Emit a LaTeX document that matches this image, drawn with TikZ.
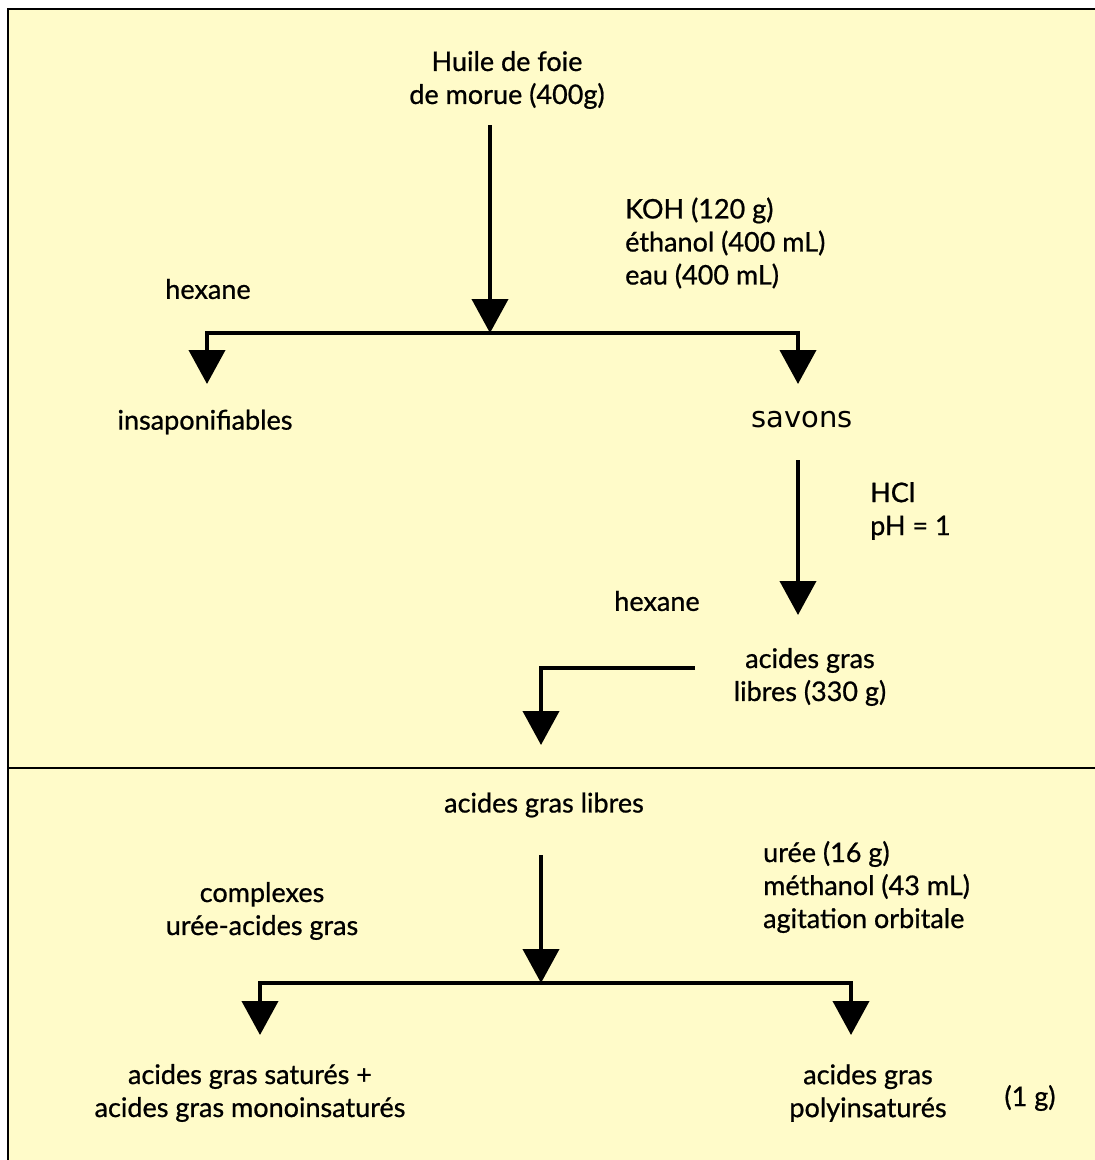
\documentclass[tikz,border=0pt]{standalone}
\usepackage{fontspec}
\setmainfont{Lato}[FakeBold=0.8]
\newfontfamily\savonsfont{DejaVu Sans}
\usetikzlibrary{arrows.meta}
\definecolor{fondjaune}{RGB}{255,251,201}

\begin{document}
\begin{tikzpicture}[
					x=1pt,y=-1pt,
					lbl/.style={align=center,inner sep=0pt,font=\fontsize{27}{33}\selectfont},
					lbll/.style={lbl,align=left,anchor=west},
					fleche/.style={line width=4pt,-{Triangle[width=36pt,length=34pt]}}
					]
					\useasboundingbox[fill=white] (0,0) rectangle (1095,1160);
					\fill[fondjaune] (8,9) rectangle (1096,1161);
					\draw[line width=2.5pt] (8,1161) -- (8,9) -- (1096,9);
					\draw[line width=2.5pt] (8,768) -- (1096,768);
					% saponification
					\node[lbl] (huile) at (507,80) {Huile de foie\\de morue (400g)};
					\node[lbll] (koh) at (625,243) {KOH (120 g)\\éthanol (400 mL)\\eau (400 mL)};
					\node[lbl] (hex1) at (208,289) {hexane};
					\node[lbl] (insap) at (205,422) {insaponifiables};
					\node[lbl,font=\savonsfont\fontsize{29}{33}\selectfont] (savons) at (802,420) {savons};
					\coordinate (h0) at (490,125);
					\coordinate (j1) at (490,333);
					\coordinate (t1) at (207,384);
					\coordinate (t2) at (798,384);
					\draw[fleche] (h0) -- (j1);
					\draw[fleche] (j1) -| (t1);
					\draw[fleche] (j1) -| (t2);
					% acidification
					\node[lbll] (hcl) at (870,511) {HCl\\pH = 1};
					\node[lbl] (hex2) at (657,601) {hexane};
					\node[lbl] (agl) at (810,677) {acides gras\\libres (330 g)};
					\coordinate (s0) at (798,460);
					\coordinate (s1) at (798,615);
					\coordinate (a0) at (695,668);
					\coordinate (a1) at (541,745);
					\draw[fleche] (s0) -- (s1);
					\draw[fleche] (a0) -| (a1);
					% complexation a l'uree
					\node[lbl] (agl2) at (544,805) {acides gras libres};
					\node[lbl] (compl) at (262,911) {complexes\\urée-acides gras};
					\node[lbll] (uree) at (763,887) {urée (16 g)\\méthanol (43 mL)\\agitation orbitale};
					\node[lbl] (sat) at (250,1093) {acides gras saturés +\\acides gras monoinsaturés};
					\node[lbl] (poly) at (868,1093) {acides gras\\polyinsaturés};
					\node[lbl] (masse) at (1030,1098) {(1 g)};
					\coordinate (b0) at (541,855);
					\coordinate (j2) at (541,983);
					\coordinate (t3) at (260,1035);
					\coordinate (t4) at (851,1035);
					\draw[fleche] (b0) -- (j2);
					\draw[fleche] (j2) -| (t3);
					\draw[fleche] (j2) -| (t4);
				\end{tikzpicture}
\end{document}
